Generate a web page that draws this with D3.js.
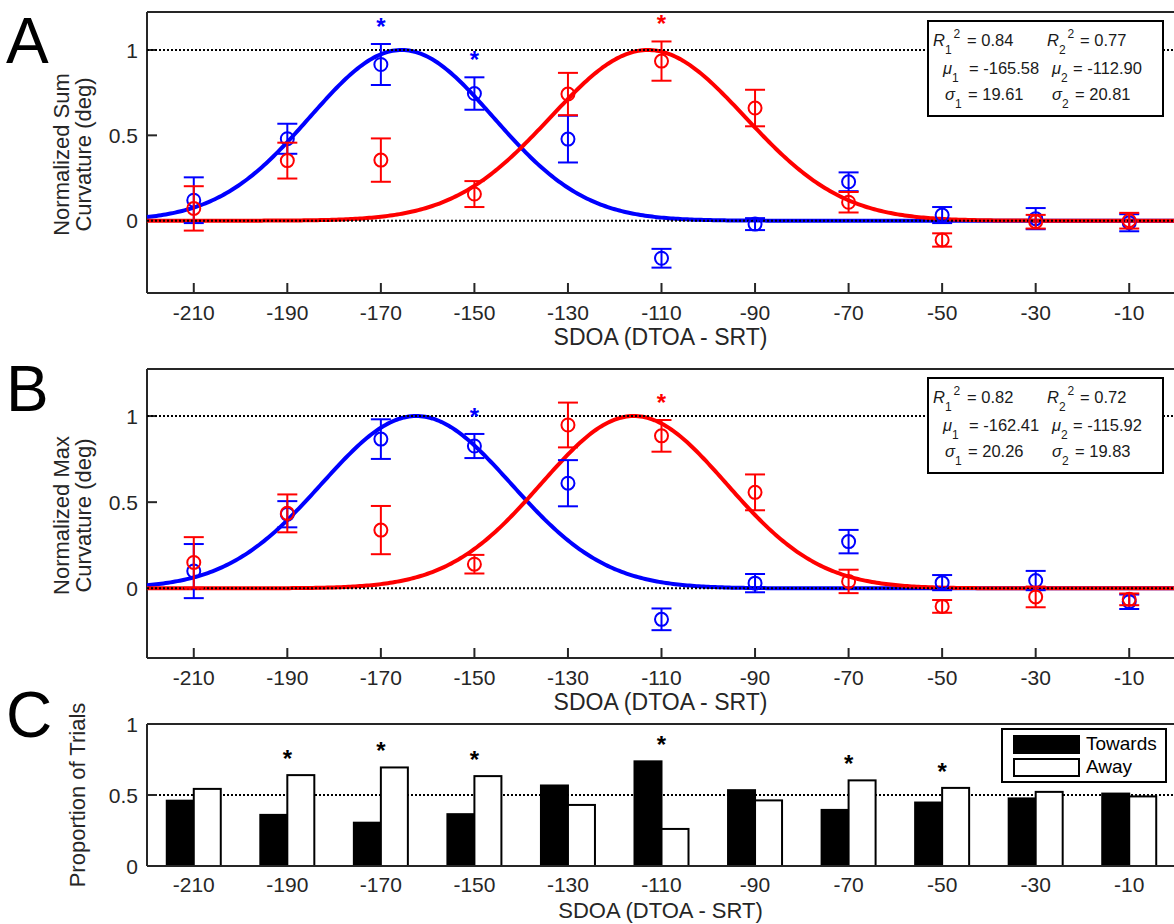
<!DOCTYPE html>
<html><head><meta charset="utf-8">
<script src="https://cdn.jsdelivr.net/npm/d3@7"></script>
<style>
body{margin:0;background:#fff}
svg{display:block}
text{font-family:"Liberation Sans",Arial,Helvetica,sans-serif}
</style>
</head><body><svg id="c" width="1174" height="924"></svg>
<script>
// ---------- DATA ----------
const sdoa = [-210,-190,-170,-150,-130,-110,-90,-70,-50,-30,-10];

// Panel A: Normalized Sum Curvature
const sumBlueMean = [0.12,0.48,0.915,0.745,0.478,-0.22,-0.02,0.228,0.033,0.012,-0.012];
const sumBlueErr  = [0.134,0.088,0.12,0.095,0.137,0.055,0.035,0.055,0.047,0.062,0.05];
const sumRedMean  = [0.072,0.352,0.355,0.156,0.742,0.935,0.66,0.108,-0.113,-0.006,0.0];
const sumRedErr   = [0.13,0.105,0.127,0.076,0.124,0.115,0.107,0.06,0.039,0.04,0.046];
const sumBlueStars = [-170,-150];
const sumRedStars  = [-110];
const sumR2    = [0.84, 0.77];
const sumMu    = [-165.58, -112.90];
const sumSigma = [19.61, 20.81];

// Panel B: Normalized Max Curvature
const maxBlueMean = [0.10,0.43,0.866,0.826,0.61,-0.18,0.03,0.271,0.033,0.045,-0.078];
const maxBlueErr  = [0.157,0.076,0.115,0.07,0.134,0.063,0.053,0.068,0.044,0.056,0.042];
const maxRedMean  = [0.15,0.435,0.338,0.14,0.948,0.885,0.557,0.04,-0.105,-0.05,-0.064];
const maxRedErr   = [0.147,0.11,0.14,0.054,0.13,0.092,0.104,0.068,0.037,0.06,0.034];
const maxBlueStars = [-150];
const maxRedStars  = [-110];
const maxR2    = [0.82, 0.72];
const maxMu    = [-162.41, -115.92];
const maxSigma = [20.26, 19.83];

// Panel C: Proportion of Trials
const towards = [0.46,0.36,0.305,0.365,0.567,0.737,0.534,0.395,0.447,0.476,0.51];
const away    = [0.543,0.64,0.694,0.633,0.43,0.261,0.462,0.603,0.55,0.522,0.49];
const propStars = [-190,-170,-150,-110,-70,-50];
const barSeries = ["Towards","Away"];

const yTicksCurve = [0,0.5,1];
const yTicksProp  = [0,0.5,1];
const xLabel = "SDOA (DTOA - SRT)";

// ---------- LAYOUT ----------
const svg = d3.select("#c");
const L = 147, R = 1176;
const x = d3.scaleLinear().domain([-220,0]).range([L,R]);
const AX = "#262626";
const BLUE = "#0000ff", RED = "#ff0000";
const fmt = d => String(d);

function frame(g, y, top, bottom, ticks) {
  g.append("line").attr("x1",L).attr("x2",R).attr("y1",top).attr("y2",top).attr("stroke",AX).attr("stroke-width",2);
  g.append("line").attr("x1",L).attr("x2",R).attr("y1",bottom).attr("y2",bottom).attr("stroke",AX).attr("stroke-width",2);
  g.append("line").attr("x1",L).attr("x2",L).attr("y1",top).attr("y2",bottom).attr("stroke",AX).attr("stroke-width",2);
  const ya = g.append("g");
  ticks.forEach(t => {
    ya.append("line").attr("x1",L).attr("x2",L+10).attr("y1",y(t)).attr("y2",y(t)).attr("stroke",AX).attr("stroke-width",2);
    ya.append("text").attr("x",L-9).attr("y",y(t)).attr("dy","0.36em").attr("text-anchor","end")
      .attr("font-size",21).attr("fill",AX).text(fmt(t));
  });
}
function xTickLabels(g, bottom, withTicks, off) {
  sdoa.forEach(v => {
    if (withTicks) g.append("line").attr("x1",x(v)).attr("x2",x(v)).attr("y1",bottom).attr("y2",bottom-10).attr("stroke",AX).attr("stroke-width",2);
    g.append("text").attr("x",x(v)).attr("y",bottom+off).attr("text-anchor","middle").attr("font-size",21).attr("fill",AX).text(fmt(v));
  });
}
function yLabel(g, lines, cx, cy) {
  const t = g.append("text").attr("transform",`translate(${cx},${cy}) rotate(-90)`).attr("text-anchor","middle")
    .attr("font-size",22).attr("fill",AX);
  lines.forEach((s,i) => t.append("tspan").attr("x",0).attr("y", lines.length===1 ? 0 : (i===0 ? -11 : 11)).text(s));
}
function panelLetter(letter, baseline) {
  svg.append("text").attr("x",6).attr("y",baseline).attr("font-size",64).attr("fill","#000").text(letter);
}
function star(g, cx, cy, color) {
  const fs = 24;
  g.append("text").attr("x",cx).attr("y",cy + 0.57*fs).attr("text-anchor","middle").attr("font-size",fs)
    .attr("font-weight","bold").attr("fill",color).text("*");
}

function fitLegend(g, bx, by, r2, mu, sigma) {
  g.append("rect").attr("x",bx).attr("y",by).attr("width",235).attr("height",95)
    .attr("fill","#fff").attr("stroke","#000").attr("stroke-width",2);
  const fsMain = 16.5, fsSub = 12;
  const rows = [
    {sym:"R", vals:r2.map(v=>v.toFixed(2)), base:25, sx:[5,119], vx:[39,152], sup:true},
    {sym:"\u03bc", vals:mu.map(v=>v.toFixed(2)), base:53, sx:[15,124], vx:[41,145], sup:false},
    {sym:"\u03c3", vals:sigma.map(v=>v.toFixed(2)), base:79, sx:[17,124], vx:[40,147], sup:false}
  ];
  rows.forEach(r => {
    [0,1].forEach(i => {
      const t = g.append("text").attr("x",bx+r.sx[i]).attr("y",by+r.base).attr("fill","#1a1a1a").attr("font-size",fsMain);
      t.append("tspan").attr("font-style","italic").text(r.sym);
      t.append("tspan").attr("font-size",fsSub).attr("dy",8).text(String(i+1));
      if (r.sup) t.append("tspan").attr("font-size",fsSub).attr("dx",2).attr("dy",-16).text("2");
      g.append("text").attr("x",bx+r.vx[i]).attr("y",by+r.base).attr("fill","#1a1a1a").attr("font-size",fsMain)
        .text("= " + r.vals[i]);
    });
  });
}

function curvePanel(cfg) {
  const g = svg.append("g");
  const y = d3.scaleLinear().domain(cfg.ydom).range([cfg.bottom, cfg.top]);
  frame(g, y, cfg.top, cfg.bottom, yTicksCurve);
  xTickLabels(g, cfg.bottom, true, 27);
  const line = d3.line().x(d=>x(d[0])).y(d=>y(d[1]));
  const xs = d3.range(-220, 0.001, 0.5);
  [[cfg.mu[0],cfg.sigma[0],BLUE],[cfg.mu[1],cfg.sigma[1],RED]].forEach(([m,s,c]) => {
    g.append("path").datum(xs.map(v => [v, Math.exp(-((v-m)*(v-m))/(2*s*s))]))
      .attr("d",line).attr("fill","none").attr("stroke",c).attr("stroke-width",4);
  });
  [0,1].forEach(v => g.append("line").attr("x1",L).attr("x2",R).attr("y1",y(v)).attr("y2",y(v))
    .attr("stroke","#000").attr("stroke-width",2).attr("stroke-dasharray","2,2"));
  [[cfg.blueMean,cfg.blueErr,BLUE],[cfg.redMean,cfg.redErr,RED]].forEach(([mean,err,c]) => {
    const pg = g.append("g").attr("stroke",c).attr("stroke-width",2).attr("fill","none");
    sdoa.forEach((v,i) => {
      const cx = x(v), y0 = y(mean[i]-err[i]), y1 = y(mean[i]+err[i]);
      pg.append("line").attr("x1",cx).attr("x2",cx).attr("y1",y0).attr("y2",y1);
      pg.append("line").attr("x1",cx-10).attr("x2",cx+10).attr("y1",y0).attr("y2",y0);
      pg.append("line").attr("x1",cx-10).attr("x2",cx+10).attr("y1",y1).attr("y2",y1);
      pg.append("circle").attr("cx",cx).attr("cy",y(mean[i])).attr("r",6.5);
    });
  });
  cfg.blueStars.forEach(v => { const i = sdoa.indexOf(v); star(g, x(v), y(cfg.blueMean[i]+cfg.blueErr[i]) - 23, BLUE); });
  cfg.redStars.forEach(v => { const i = sdoa.indexOf(v); star(g, x(v), y(cfg.redMean[i]+cfg.redErr[i]) - 23, RED); });
  fitLegend(g, 928, cfg.top + 9, cfg.r2, cfg.mu, cfg.sigma);
  g.append("text").attr("x",(L+R)/2 - 1).attr("y",cfg.bottom+52).attr("text-anchor","middle").attr("font-size",23).attr("fill",AX).text(xLabel);
  yLabel(g, cfg.ylabel, 80, (cfg.top+cfg.bottom)/2 + 2);
}

curvePanel({top:12,bottom:293,ydom:[-0.4236,1.2226],
  blueMean:sumBlueMean,blueErr:sumBlueErr,redMean:sumRedMean,redErr:sumRedErr,
  blueStars:sumBlueStars,redStars:sumRedStars,r2:sumR2,mu:sumMu,sigma:sumSigma,
  ylabel:["Normalized Sum","Curvature (deg)"]});
curvePanel({top:369,bottom:658,ydom:[-0.4045,1.273],
  blueMean:maxBlueMean,blueErr:maxBlueErr,redMean:maxRedMean,redErr:maxRedErr,
  blueStars:maxBlueStars,redStars:maxRedStars,r2:maxR2,mu:maxMu,sigma:maxSigma,
  ylabel:["Normalized Max","Curvature (deg)"]});

// Panel C
(function(){
  const top = 724, bottom = 866;
  const g = svg.append("g");
  const y = d3.scaleLinear().domain([0,1]).range([bottom, top]);
  const xb = d3.scaleBand().domain(barSeries).range([-27,27]).paddingInner(0);
  g.append("line").attr("x1",L).attr("x2",R).attr("y1",y(0.5)).attr("y2",y(0.5))
    .attr("stroke","#000").attr("stroke-width",2).attr("stroke-dasharray","2,2");
  sdoa.forEach((v,i) => {
    g.append("rect").attr("x",x(v)+xb("Towards")).attr("width",xb.bandwidth()).attr("y",y(towards[i]))
      .attr("height",y(0)-y(towards[i])).attr("fill","#000").attr("stroke","#000").attr("stroke-width",2);
    g.append("rect").attr("x",x(v)+xb("Away")).attr("width",xb.bandwidth()).attr("y",y(away[i]))
      .attr("height",y(0)-y(away[i])).attr("fill","#fff").attr("stroke","#000").attr("stroke-width",2);
  });
  propStars.forEach(v => { const i = sdoa.indexOf(v); star(g, x(v), y(Math.max(towards[i],away[i])) - 22, "#000"); });
  frame(g, y, top, bottom, yTicksProp);
  xTickLabels(g, bottom, false, 26);
  g.append("rect").attr("x",1002).attr("y",top+5).attr("width",164).attr("height",53).attr("fill","#fff").attr("stroke","#000").attr("stroke-width",2);
  g.append("rect").attr("x",1014).attr("y",top+12).attr("width",65).attr("height",17).attr("fill","#000").attr("stroke","#000").attr("stroke-width",2);
  g.append("rect").attr("x",1014).attr("y",top+35).attr("width",65).attr("height",17).attr("fill","#fff").attr("stroke","#000").attr("stroke-width",2);
  g.append("text").attr("x",1086).attr("y",top+26).attr("font-size",19).attr("fill","#000").text(barSeries[0]);
  g.append("text").attr("x",1086).attr("y",top+49).attr("font-size",19).attr("fill","#000").text(barSeries[1]);
  g.append("text").attr("x",(L+R)/2 - 1).attr("y",bottom+52).attr("text-anchor","middle").attr("font-size",22).attr("fill",AX).text(xLabel);
  yLabel(g, ["Proportion of Trials"], 85, (top+bottom)/2);
})();

panelLetter("A", 63);
panelLetter("B", 411);
panelLetter("C", 737);
</script>
</body></html>
